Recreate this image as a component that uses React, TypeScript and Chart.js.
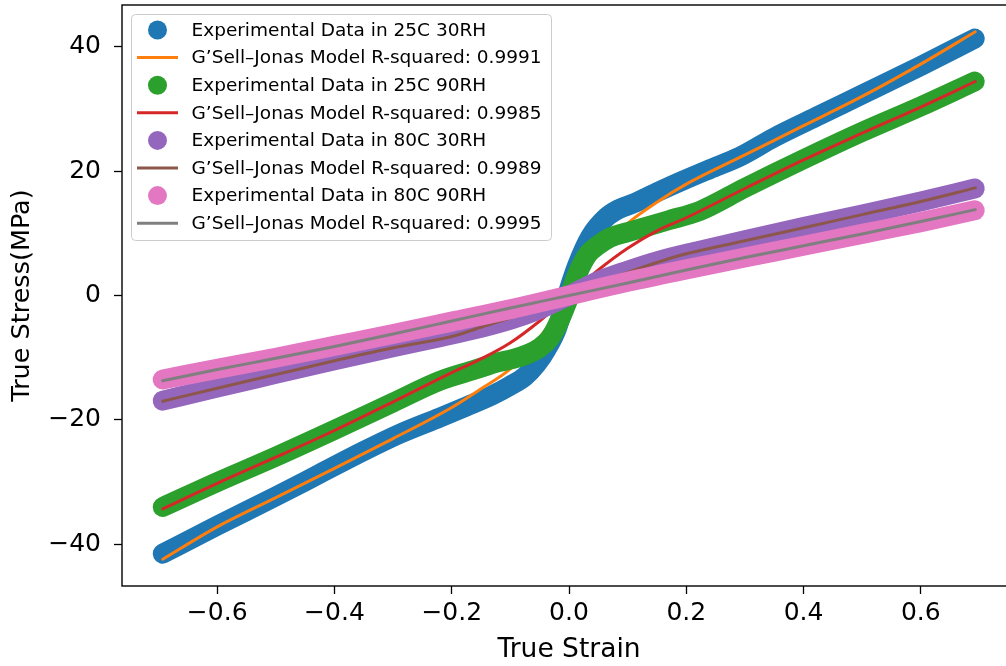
import React, { useEffect, useRef } from "react";
import { Chart, registerables } from "chart.js";
Chart.register(...registerables);

// ---- axis settings ----
const xTickValues = [-0.6, -0.4, -0.2, 0.0, 0.2, 0.4, 0.6];
const yTickValues = [-40, -20, 0, 20, 40];
const xRange = [-0.7624, 0.7624];
const yRange = [-46.7, 46.7];

// ---- 25C 30RH ----
const strainExp25C30RH = [-0.693, -0.6, -0.5, -0.424, -0.35, -0.288, -0.22, -0.174, -0.13, -0.1, -0.075, -0.055, -0.038, -0.021, -0.004, 0.013, 0.036, 0.064, 0.085, 0.11, 0.15, 0.195, 0.24, 0.291, 0.35, 0.428, 0.5, 0.6, 0.692];
const stressExp25C30RH = [-41.5, -37.0, -32.3, -28.6, -25.0, -22.2, -19.6, -17.8, -16.0, -14.5, -13.0, -11.0, -8.6, -5.4, -0.2, 4.6, 9.4, 12.6, 13.9, 14.8, 16.6, 18.5, 20.3, 22.3, 25.4, 29.0, 32.3, 36.9, 41.3];
const strainFit25C30RH = [-0.693, -0.6, -0.5, -0.4, -0.3, -0.2, -0.15, -0.1, -0.06, -0.03, 0, 0.03, 0.06, 0.1, 0.15, 0.2, 0.3, 0.4, 0.5, 0.6, 0.693];
const stressFit25C30RH = [-42.4, -37.2, -32.5, -27.8, -23.0, -18.0, -15.0, -11.8, -7.9, -4.2, 0, 4.2, 7.9, 11.6, 15.0, 17.9, 22.6, 27.3, 32.0, 37.2, 42.4];

// ---- 25C 90RH ----
const strainExp25C90RH = [-0.693, -0.6, -0.5, -0.4, -0.3, -0.22, -0.16, -0.12, -0.095, -0.07, -0.05, -0.032, -0.015, 0, 0.015, 0.032, 0.05, 0.07, 0.1, 0.13, 0.17, 0.223, 0.3, 0.4, 0.5, 0.6, 0.692];
const stressExp25C90RH = [-34.0, -30.0, -25.9, -21.6, -17.2, -13.7, -11.9, -10.7, -10.2, -9.4, -8.4, -6.8, -3.8, -0.3, 3.6, 6.6, 8.1, 9.3, 10.2, 11.0, 12.1, 13.6, 17.3, 21.9, 26.3, 30.4, 34.4];
const strainFit25C90RH = [-0.693, -0.6, -0.5, -0.4, -0.3, -0.2, -0.15, -0.1, -0.05, 0, 0.05, 0.1, 0.15, 0.2, 0.3, 0.4, 0.5, 0.6, 0.693];
const stressFit25C90RH = [-34.3, -30.2, -26.0, -21.7, -17.1, -12.4, -10.2, -7.6, -4.1, 0, 4.1, 7.6, 10.4, 12.5, 17.2, 21.8, 26.1, 30.3, 34.4];

// ---- 80C 30RH ----
const strainExp80C30RH = [-0.693, -0.6, -0.5, -0.4, -0.3, -0.22, -0.15, -0.1, -0.05, 0, 0.05, 0.1, 0.15, 0.223, 0.3, 0.4, 0.5, 0.6, 0.692];
const stressExp80C30RH = [-16.9, -14.8, -12.6, -10.4, -8.3, -6.7, -5.2, -3.9, -2.2, 0, 2.3, 4.0, 5.5, 7.2, 8.9, 11.0, 13.0, 15.1, 17.2];
const strainFit80C30RH = [-0.693, -0.6, -0.5, -0.4, -0.3, -0.2, -0.15, -0.1, -0.05, 0, 0.05, 0.1, 0.15, 0.2, 0.3, 0.4, 0.5, 0.6, 0.693];
const stressFit80C30RH = [-17.0, -14.9, -12.7, -10.5, -8.4, -6.6, -5.1, -3.6, -1.9, 0, 2.0, 3.7, 5.3, 6.7, 8.8, 10.9, 13.0, 15.1, 17.3];

// ---- 80C 90RH ----
const strainExp80C90RH = [-0.693, -0.6, -0.5, -0.4, -0.3, -0.2, -0.1, 0, 0.1, 0.2, 0.3, 0.4, 0.5, 0.6, 0.692];
const stressExp80C90RH = [-13.5, -11.8, -10.0, -8.1, -6.2, -4.2, -2.2, 0, 2.2, 4.2, 6.1, 8.0, 9.9, 11.8, 13.7];
const strainFit80C90RH = [-0.693, -0.6, -0.5, -0.4, -0.3, -0.2, -0.1, 0, 0.1, 0.2, 0.3, 0.4, 0.5, 0.6, 0.693];
const stressFit80C90RH = [-13.7, -11.9, -10.1, -8.2, -6.2, -4.1, -2.0, 0, 2.0, 4.1, 6.1, 8.0, 9.9, 11.9, 13.8];

const seriesLabels = [
  "Experimental Data in 25C 30RH",
  "G\u2019Sell\u2013Jonas Model R-squared: 0.9991",
  "Experimental Data in 25C 90RH",
  "G\u2019Sell\u2013Jonas Model R-squared: 0.9985",
  "Experimental Data in 80C 30RH",
  "G\u2019Sell\u2013Jonas Model R-squared: 0.9989",
  "Experimental Data in 80C 90RH",
  "G\u2019Sell\u2013Jonas Model R-squared: 0.9995",
];
const seriesColors = ["#1f77b4", "#ff7f0e", "#2ca02c", "#d62728", "#9467bd", "#8c564b", "#e377c2", "#7f7f7f"];
const seriesKinds = ["marker", "line", "marker", "line", "marker", "line", "marker", "line"];

const FONT = "'DejaVu Sans', 'Liberation Sans', sans-serif";

const toPoints = (xs: number[], ys: number[]) => xs.map((x, i) => ({ x, y: ys[i] }));

const fmtMinus = (s: string) => s.replace("-", "\u2212");

const framePlugin = {
  id: "mplFrameLegend",
  afterDraw(chart: any) {
    const { ctx, chartArea } = chart;
    ctx.save();
    // axes frame
    ctx.strokeStyle = "#000";
    ctx.lineWidth = 1.4;
    ctx.strokeRect(chartArea.left, chartArea.top, chartArea.right - chartArea.left, chartArea.bottom - chartArea.top);
    // legend box
    const bx = 131.5, by = 14.5, bw = 420, bh = 226;
    ctx.beginPath();
    if ((ctx as any).roundRect) (ctx as any).roundRect(bx, by, bw, bh, 4);
    else ctx.rect(bx, by, bw, bh);
    ctx.fillStyle = "rgba(255,255,255,0.8)";
    ctx.fill();
    ctx.strokeStyle = "#cccccc";
    ctx.lineWidth = 1;
    ctx.stroke();
    const ds = chart.data.datasets;
    ctx.font = `18.5px ${FONT}`;
    ctx.textBaseline = "middle";
    ctx.textAlign = "left";
    for (let i = 0; i < ds.length; i++) {
      const cy = 30 + i * 27.6;
      const kind = (ds[i] as any).legendKind;
      if (kind === "marker") {
        ctx.beginPath();
        ctx.arc(157.5, cy, 9.5, 0, Math.PI * 2);
        ctx.fillStyle = ds[i].borderColor;
        ctx.fill();
      } else {
        ctx.beginPath();
        ctx.moveTo(137, cy);
        ctx.lineTo(178, cy);
        ctx.strokeStyle = ds[i].borderColor;
        ctx.lineWidth = 3;
        ctx.stroke();
      }
      ctx.fillStyle = "#000";
      ctx.fillText(ds[i].label, 191.5, cy + 1);
    }
    ctx.restore();
  },
};

export default function App() {
  const ref = useRef<HTMLCanvasElement | null>(null);
  useEffect(() => {
    if (!ref.current) return;
    Chart.defaults.font.family = FONT;
    const pairs = [
      [strainExp25C30RH, stressExp25C30RH],
      [strainFit25C30RH, stressFit25C30RH],
      [strainExp25C90RH, stressExp25C90RH],
      [strainFit25C90RH, stressFit25C90RH],
      [strainExp80C30RH, stressExp80C30RH],
      [strainFit80C30RH, stressFit80C30RH],
      [strainExp80C90RH, stressExp80C90RH],
      [strainFit80C90RH, stressFit80C90RH],
    ];
    const datasets = pairs.map((p, i) => {
      const isMarker = seriesKinds[i] === "marker";
      return {
        label: seriesLabels[i],
        data: toPoints(p[0], p[1]),
        showLine: true,
        borderColor: seriesColors[i],
        backgroundColor: seriesColors[i],
        borderWidth: isMarker ? 20 : 3,
        borderCapStyle: "round",
        borderJoinStyle: "round",
        cubicInterpolationMode: "monotone",
        pointRadius: 0,
        pointHoverRadius: 0,
        order: 10 - i,
        legendKind: seriesKinds[i],
      } as any;
    });
    const zeroPad = (s: any) => {
      s.paddingTop = 0;
      s.paddingBottom = 0;
      s.paddingLeft = 0;
      s.paddingRight = 0;
    };
    const chart = new Chart(ref.current, {
      type: "scatter",
      data: { datasets },
      options: {
        animation: false,
        responsive: false,
        devicePixelRatio: 1,
        events: [],
        layout: { padding: { left: 0, top: 5, right: 4, bottom: 0 } },
        plugins: { legend: { display: false }, tooltip: { enabled: false } },
        scales: {
          x: {
            type: "linear",
            min: xRange[0],
            max: xRange[1],
            afterFit: (s: any) => { s.height = 80; zeroPad(s); },
            afterBuildTicks: (s: any) => { s.ticks = xTickValues.map((v) => ({ value: v })); },
            grid: { display: true, drawOnChartArea: false, drawTicks: true, tickLength: 8, tickWidth: 1.3, tickColor: "#000" },
            border: { display: false },
            ticks: {
              color: "#000",
              font: { size: 25, family: FONT },
              padding: 4,
              maxRotation: 0,
              autoSkip: false,
              callback: (v: any) => fmtMinus(Number(v).toFixed(1)),
            },
            title: { display: true, text: "True Strain", color: "#000", font: { size: 26.5, family: FONT }, padding: { top: 0, bottom: 0 } },
          },
          y: {
            type: "linear",
            min: yRange[0],
            max: yRange[1],
            afterFit: (s: any) => { s.width = 122; zeroPad(s); },
            afterBuildTicks: (s: any) => { s.ticks = yTickValues.map((v) => ({ value: v })); },
            grid: { display: true, drawOnChartArea: false, drawTicks: true, tickLength: 8, tickWidth: 1.3, tickColor: "#000" },
            border: { display: false },
            ticks: {
              color: "#000",
              font: { size: 25, family: FONT },
              padding: 13,
              autoSkip: false,
              callback: (v: any) => fmtMinus(String(Math.round(Number(v)))),
            },
            title: { display: true, text: "True Stress(MPa)", color: "#000", font: { size: 25.5, family: FONT }, padding: { top: 7, bottom: 0 } },
          },
        },
      },
      plugins: [framePlugin],
    });
    return () => chart.destroy();
  }, []);
  return (
    <div style={{ position: "fixed", left: 0, top: 0, width: 1006, height: 666, overflow: "hidden", background: "#fff" }}>
      <canvas ref={ref} width={1020} height={666} style={{ display: "block", width: 1020, height: 666 }} />
    </div>
  );
}
